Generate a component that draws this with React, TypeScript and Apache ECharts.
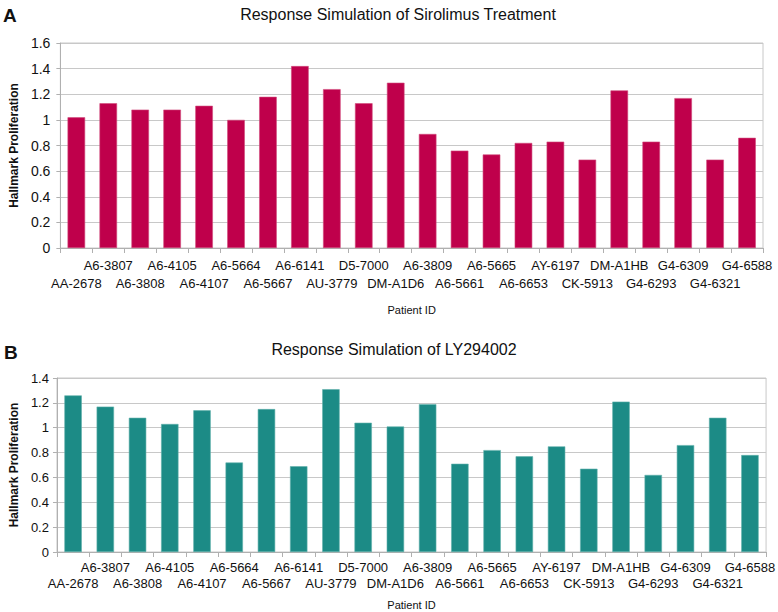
import React, { useEffect, useRef } from "react";
import * as echarts from "echarts";

const patients = [
  "AA-2678", "A6-3807", "A6-3808", "A6-4105", "A6-4107", "A6-5664", "A6-5667", "A6-6141",
  "AU-3779", "D5-7000", "DM-A1D6", "A6-3809", "A6-5661", "A6-5665", "A6-6653", "AY-6197",
  "CK-5913", "DM-A1HB", "G4-6293", "G4-6309", "G4-6321", "G4-6588",
];

const sirolimusValues = [
  1.02, 1.13, 1.08, 1.08, 1.11, 1.0, 1.18, 1.42, 1.24, 1.13, 1.29,
  0.89, 0.76, 0.73, 0.82, 0.83, 0.69, 1.23, 0.83, 1.17, 0.69, 0.86,
];

const ly294002Values = [
  1.26, 1.17, 1.08, 1.03, 1.14, 0.72, 1.15, 0.69, 1.31, 1.04, 1.01,
  1.19, 0.71, 0.82, 0.77, 0.85, 0.67, 1.21, 0.62, 0.86, 1.08, 0.78,
];

const titleA = "Response Simulation of Sirolimus Treatment";
const titleB = "Response Simulation of LY294002";
const yName = "Hallmark Proliferation";
const xName = "Patient ID";

const FONT = "'Liberation Sans', Arial, Helvetica, sans-serif";
const GRID_COLOR = "#c8c8c8";

function makeXAxis(gridIndex: number, margin: number, lineHeight: number, nameGap: number) {
  return {
    type: "category",
    gridIndex,
    data: patients,
    axisLine: { show: true, lineStyle: { color: "#b0b0b0" } },
    axisTick: { show: true, alignWithLabel: false, length: 5, lineStyle: { color: "#b0b0b0" } },
    axisLabel: {
      interval: 0,
      margin,
      fontFamily: FONT,
      fontSize: 13,
      color: "#111",
      lineHeight,
      formatter: (v: string, i: number) => (i % 2 === 0 ? "\n" + v : v),
    },
    name: xName,
    nameLocation: "middle",
    nameGap,
    nameTextStyle: { fontFamily: FONT, fontSize: 11, color: "#111" },
  };
}

function makeYAxis(gridIndex: number, max: number, fontSize: number, margin: number, nameGap: number) {
  return {
    type: "value",
    gridIndex,
    min: 0,
    max,
    interval: 0.2,
    axisLine: { show: true, lineStyle: { color: "#b0b0b0" } },
    axisTick: { show: true, length: 4, lineStyle: { color: "#b0b0b0" } },
    splitLine: { show: true, lineStyle: { color: GRID_COLOR, width: 1 } },
    axisLabel: {
      margin,
      fontFamily: FONT,
      fontSize,
      color: "#111",
      formatter: (v: number) => String(Math.round(v * 10) / 10),
    },
    name: yName,
    nameLocation: "middle",
    nameGap,
    nameRotate: 90,
    nameTextStyle: { fontFamily: FONT, fontSize: 12, fontWeight: "bold", color: "#111" },
  };
}

export default function App() {
  const ref = useRef<HTMLDivElement>(null);
  useEffect(() => {
    if (!ref.current) return;
    const chart = echarts.init(ref.current, undefined, { renderer: "svg" });
    chart.setOption({
      animation: false,
      backgroundColor: "#ffffff",
      title: [
        {
          text: titleA,
          left: 393,
          top: 1,
          textAlign: "center",
          textStyle: { fontFamily: FONT, fontSize: 16, fontWeight: "normal", color: "#111" },
        },
        {
          text: titleB,
          left: 389,
          top: 336,
          textAlign: "center",
          textStyle: { fontFamily: FONT, fontSize: 16, fontWeight: "normal", color: "#111" },
        },
      ],
      graphic: [
        {
          type: "text",
          left: 3,
          top: 6,
          style: { text: "A", font: "bold 19px " + FONT, fill: "#111" },
        },
        {
          type: "text",
          left: 4,
          top: 343,
          style: { text: "B", font: "bold 19px " + FONT, fill: "#111" },
        },
      ],
      grid: [
        { left: 53, top: 43, width: 710, height: 205, show: true, borderColor: GRID_COLOR, borderWidth: 1 },
        { left: 48, top: 378, width: 720, height: 174, show: true, borderColor: GRID_COLOR, borderWidth: 1 },
      ],
      xAxis: [makeXAxis(0, 8, 18, 56), makeXAxis(1, 7, 16, 47)],
      yAxis: [makeYAxis(0, 1.6, 14, 10, 39), makeYAxis(1, 1.4, 13, 8, 35)],
      series: [
        {
          type: "bar",
          xAxisIndex: 0,
          yAxisIndex: 0,
          data: sirolimusValues,
          barWidth: "55%",
          itemStyle: { color: "#bf004b", borderColor: "#d0497a", borderWidth: 0.6 },
        },
        {
          type: "bar",
          xAxisIndex: 1,
          yAxisIndex: 1,
          data: ly294002Values,
          barWidth: "54%",
          itemStyle: { color: "#1c8b86", borderColor: "#5fb0ab", borderWidth: 0.6 },
        },
      ],
    });
    return () => chart.dispose();
  }, []);
  return (
    <div
      ref={ref}
      style={{ position: "absolute", left: 0, top: 0, width: 778, height: 612 }}
    />
  );
}
